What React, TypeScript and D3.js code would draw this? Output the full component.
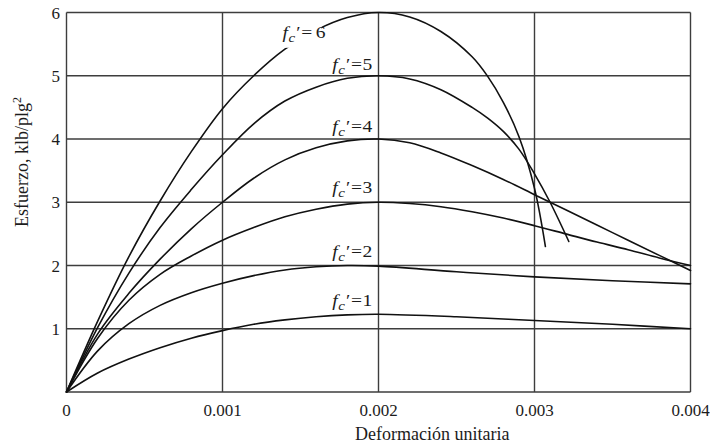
import React from "react";
import * as d3 from "d3";

// deformación unitaria (x) y esfuerzo en klb/plg² (y)
const fc6Strain = [0, 0.0002, 0.0004, 0.0006, 0.0008, 0.001, 0.0012, 0.0014, 0.0016, 0.0018, 0.002, 0.0022, 0.0024, 0.0026, 0.0027, 0.0028, 0.0029, 0.003, 0.00307];
const fc6Stress = [0, 1.12, 2.14, 3.02, 3.8, 4.48, 5.0, 5.42, 5.72, 5.92, 6.0, 5.93, 5.7, 5.3, 4.99, 4.58, 4.04, 3.22, 2.3];

const fc5Strain = [0, 0.0002, 0.0004, 0.0006, 0.0008, 0.001, 0.0012, 0.0014, 0.0016, 0.0018, 0.002, 0.0022, 0.0024, 0.0026, 0.0027, 0.0028, 0.0029, 0.003, 0.0031, 0.00322];
const fc5Stress = [0, 1.02, 1.88, 2.6, 3.2, 3.75, 4.24, 4.6, 4.82, 4.96, 5.0, 4.95, 4.78, 4.5, 4.33, 4.12, 3.84, 3.45, 3.0, 2.38];

const fc4Strain = [0, 0.0002, 0.0004, 0.0006, 0.0008, 0.001, 0.0012, 0.0014, 0.0016, 0.0018, 0.002, 0.0022, 0.0024, 0.0026, 0.0028, 0.003, 0.0032, 0.0034, 0.0036, 0.0038, 0.004];
const fc4Stress = [0, 0.92, 1.56, 2.1, 2.58, 3.0, 3.38, 3.67, 3.86, 3.97, 4.0, 3.94, 3.78, 3.58, 3.36, 3.12, 2.88, 2.64, 2.4, 2.16, 1.92];

const fc3Strain = [0, 0.0002, 0.0004, 0.0006, 0.0008, 0.001, 0.0012, 0.0014, 0.0016, 0.0018, 0.002, 0.0022, 0.0024, 0.0026, 0.0028, 0.003, 0.0032, 0.0034, 0.0036, 0.0038, 0.004];
const fc3Stress = [0, 0.85, 1.45, 1.86, 2.15, 2.4, 2.6, 2.77, 2.89, 2.97, 3.0, 2.98, 2.93, 2.85, 2.75, 2.63, 2.5, 2.37, 2.25, 2.12, 2.0];

const fc2Strain = [0, 0.0002, 0.0004, 0.0006, 0.0008, 0.001, 0.0012, 0.0014, 0.0016, 0.0018, 0.002, 0.0025, 0.003, 0.0035, 0.004];
const fc2Stress = [0, 0.65, 1.08, 1.37, 1.57, 1.72, 1.84, 1.93, 1.98, 2.0, 1.99, 1.9, 1.82, 1.76, 1.71];

const fc1Strain = [0, 0.0002, 0.0004, 0.0006, 0.0008, 0.001, 0.0012, 0.0014, 0.0016, 0.0018, 0.002, 0.0025, 0.003, 0.0035, 0.004];
const fc1Stress = [0, 0.3, 0.52, 0.7, 0.85, 0.97, 1.07, 1.14, 1.19, 1.22, 1.23, 1.19, 1.13, 1.07, 1.0];

const curveNames = ["6", "5", "4", "3", "2", "1"];
const xTicks = [0, 0.001, 0.002, 0.003, 0.004];
const xTickLabels = ["0", "0.001", "0.002", "0.003", "0.004"];
const yTicks = [1, 2, 3, 4, 5, 6];

const W = 710;
const H = 448;

export default function App() {
  const x = d3.scaleLinear().domain([0, 0.004]).range([66.5, 690.5]);
  const y = d3.scaleLinear().domain([0, 6]).range([392, 12.5]);

  const series = [
    { strain: fc6Strain, stress: fc6Stress },
    { strain: fc5Strain, stress: fc5Stress },
    { strain: fc4Strain, stress: fc4Stress },
    { strain: fc3Strain, stress: fc3Stress },
    { strain: fc2Strain, stress: fc2Stress },
    { strain: fc1Strain, stress: fc1Stress },
  ];

  const line = d3
    .line<[number, number]>()
    .x((d) => x(d[0]))
    .y((d) => y(d[1]))
    .curve(d3.curveCatmullRom.alpha(0.5));

  // where each label ends (data units), baseline
  const labelPos: [number, number][] = [
    [0.00166, 5.6],
    [0.00196, 5.09],
    [0.00196, 4.11],
    [0.00196, 3.15],
    [0.00196, 2.13],
    [0.00196, 1.36],
  ];

  const font = "'Liberation Serif', 'Times New Roman', serif";
  const ink = "#1c1c1c";
  const gridColor = "#3d3d3d";
  const txt = { fontFamily: font };

  return (
    <svg
      width={W}
      height={H}
      style={{ position: "absolute", left: 0, top: 0, background: "#fff" }}
    >
      {/* grid */}
      <g stroke={gridColor} strokeWidth={1.4} fill="none">
        {xTicks.map((t) => (
          <line key={"vx" + t} x1={x(t)} x2={x(t)} y1={y(6)} y2={y(0)} />
        ))}
        {[0, ...yTicks].map((t) => (
          <line key={"hy" + t} x1={x(0)} x2={x(0.004)} y1={y(t)} y2={y(t)} />
        ))}
      </g>

      {/* curves */}
      <g fill="none" stroke="#111" strokeWidth={1.6} strokeLinecap="round">
        {series.map((s, i) => (
          <path
            key={curveNames[i]}
            d={line(s.strain.map((v, j) => [v, s.stress[j]] as [number, number]))!}
          />
        ))}
      </g>

      {/* white gap behind the top label */}
      <rect
        x={x(labelPos[0][0]) - 45}
        y={y(labelPos[0][1]) - 17}
        width={41}
        height={27}
        fill="#fff"
      />

      {/* curve labels */}
      {curveNames.map((n, i) => (
        <g
          key={"lbl" + n}
          transform={`translate(${x(labelPos[i][0])},${y(labelPos[i][1])}) scale(1.15,1)`}
        >
          <text textAnchor="end" fontSize={17} fill={ink} style={txt}>
            <tspan fontStyle="italic">f</tspan>
            <tspan fontStyle="italic" fontSize={13} dy={4} dx={0.5}>
              c
            </tspan>
            <tspan dy={-4} dx={1}>
              ′
            </tspan>
            <tspan dx={0.5}>=</tspan>
            <tspan dx={i === 0 ? 3 : 0.5}>{n}</tspan>
          </text>
        </g>
      ))}

      {/* y tick labels */}
      {yTicks.map((t) => (
        <text
          key={"yt" + t}
          x={60}
          y={y(t) + 6}
          textAnchor="end"
          fontSize={17}
          fill={ink}
          style={txt}
        >
          {t}
        </text>
      ))}

      {/* x tick labels */}
      {xTicks.map((t, i) => (
        <text
          key={"xt" + t}
          x={x(t)}
          y={416}
          textAnchor="middle"
          fontSize={17}
          fill={ink}
          style={txt}
        >
          {xTickLabels[i]}
        </text>
      ))}

      {/* axis titles */}
      <text x={355} y={440} fontSize={18} fill={ink} style={txt}>
        Deformación unitaria
      </text>
      <text
        transform={`translate(28, 162) rotate(-90)`}
        textAnchor="middle"
        fontSize={18}
        fill={ink}
        style={txt}
      >
        Esfuerzo, klb/plg
        <tspan fontSize={12} dy={-7}>
          2
        </tspan>
      </text>
    </svg>
  );
}
